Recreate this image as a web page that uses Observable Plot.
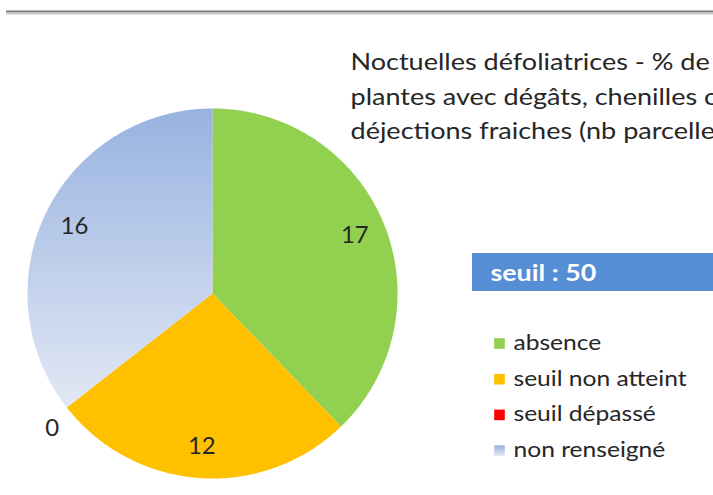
<!DOCTYPE html>
<html>
<head>
<meta charset="utf-8">
<script src="https://cdn.jsdelivr.net/npm/d3@7"></script>
<script src="https://cdn.jsdelivr.net/npm/@observablehq/plot@0.6"></script>
<style>
  html, body { margin: 0; padding: 0; background: #fff; overflow: hidden; }
  #chart svg { display: block; overflow: hidden; }
</style>
</head>
<body>
<div id="chart"></div>
<script>
// ---- data ----
const categories = ["absence", "seuil non atteint", "seuil dépassé", "non renseigné"];
const values = [17, 12, 0, 16];
const colors = ["#92d050", "#ffc000", "#ff0000", "url(#gradNR)"];
const titleLines = [
  "Noctuelles défoliatrices - % de",
  "plantes avec dégâts, chenilles ou",
  "déjections fraiches (nb parcelles)"
];
const thresholdLabel = "seuil : 50";

// ---- layout ----
const W = 713, H = 495;
const cx = 212, cy = 293, R = 185;
const FONT = "Lato, 'Open Sans', sans-serif";

const data = categories.map((c, i) => ({category: c, value: values[i], color: colors[i]}));
const arcs = d3.pie().sort(null).value(d => d.value)(data);

// polygon points for each slice
const slicePts = [];
arcs.forEach((a, i) => {
  if (a.endAngle - a.startAngle <= 0) return;
  const n = Math.max(2, Math.ceil((a.endAngle - a.startAngle) / 0.01));
  slicePts.push({i, x: cx, y: cy, color: data[i].color});
  for (let k = 0; k <= n; k++) {
    const t = a.startAngle + (a.endAngle - a.startAngle) * k / n;
    slicePts.push({i, x: cx + R * Math.sin(t), y: cy - R * Math.cos(t), color: data[i].color});
  }
});

// labels (inside for non-zero slices, outside for empty ones)
const labels = arcs.map((a, i) => {
  const m = (a.startAngle + a.endAngle) / 2;
  const r = a.value > 0 ? R * 0.83 : R * 1.1;
  const dy = a.value > 0 ? 0 : 10;
  return {x: cx + r * Math.sin(m), y: cy - r * Math.cos(m) + dy, text: String(a.value)};
});

const legend = categories.map((c, i) => ({x: 499, y: 343 + i * 35.7, text: c, color: colors[i]}));
const titles = titleLines.map((t, i) => ({x: 350, y: 62 + i * 34.5, text: t}));

const chart = Plot.plot({
  width: W, height: H,
  margin: 0,
  x: {domain: [0, W], range: [0, W], axis: null},
  y: {domain: [0, H], range: [0, H], axis: null},
  style: {fontFamily: FONT, background: "#fff", overflow: "hidden"},
  marks: [
    Plot.ruleY([11], {x1: 6, x2: W, stroke: "#7a7a7a", strokeWidth: 2}),
    Plot.ruleY([13], {x1: 6, x2: W, stroke: "#c8c8c8", strokeWidth: 2}),
    Plot.line(slicePts, {x: "x", y: "y", z: "i", fill: "color", stroke: "none", curve: "linear-closed"}),
    Plot.text(labels, {x: "x", y: "y", text: "text", fill: "#262626", fontSize: 23}),
    Plot.text(titles, {x: "x", y: "y", text: "text", textAnchor: "start", fill: "#262626", fontSize: 23.5}),
    Plot.rect([thresholdLabel], {x1: 472, x2: W, y1: 253, y2: 291, fill: "#558ed5"}),
    Plot.text([thresholdLabel], {x: 490, y: 273, text: d => d, textAnchor: "start", fill: "#fff", fontWeight: "bold", fontSize: 22}),
    Plot.dot(legend, {x: "x", y: "y", symbol: "square", r: 6, fill: "color", stroke: "none"}),
    Plot.text(legend, {x: 513, y: "y", text: "text", textAnchor: "start", fill: "#262626", fontSize: 20.5})
  ]
});

// gradient definition for "non renseigné"
const ns = "http://www.w3.org/2000/svg";
const defs = document.createElementNS(ns, "defs");
defs.innerHTML = `<linearGradient id="gradNR" x1="0" y1="0" x2="0" y2="1">
  <stop offset="0" stop-color="#98b3e0"/>
  <stop offset="1" stop-color="#e2e8f5"/>
</linearGradient>`;
chart.insertBefore(defs, chart.firstChild);

// widen glyphs horizontally to mimic the wider original typeface
const groups = chart.querySelectorAll('g[aria-label="text"]');
const stretch = [1.04, 1.15, 1.22, 1.2];
groups.forEach((g, k) => {
  const gt = g.getAttribute("transform") || "";
  g.querySelectorAll("text").forEach(t => {
    let tr = t.getAttribute("transform");
    if (!tr) {
      const x = +t.getAttribute("x") || 0, y = +t.getAttribute("y") || 0;
      t.removeAttribute("x"); t.removeAttribute("y");
      tr = `translate(${x},${y})`;
    }
    t.setAttribute("transform", `${tr} scale(${stretch[k]},1)`);
  });
});
document.getElementById("chart").appendChild(chart);
</script>
</body>
</html>
